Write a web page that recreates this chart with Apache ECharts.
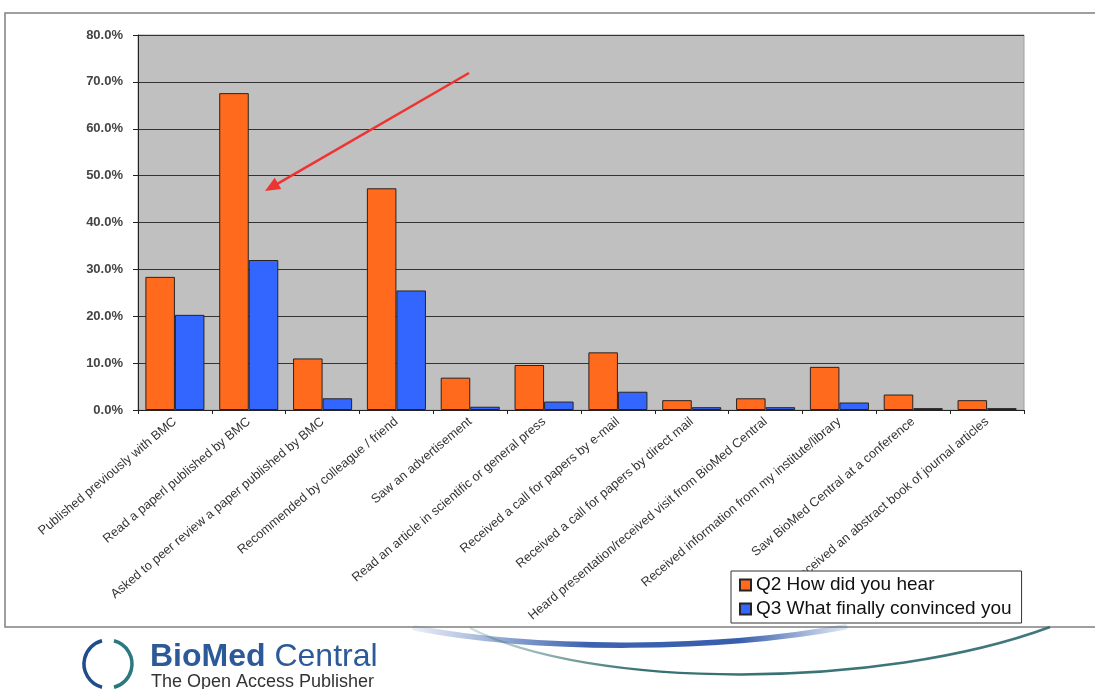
<!DOCTYPE html>
<html>
<head>
<meta charset="utf-8">
<title>How did you hear about BioMed Central</title>
<script src="https://cdn.jsdelivr.net/npm/echarts@6/dist/echarts.min.js"></script>
<style>
  html, body { margin: 0; padding: 0; background: #ffffff; }
  #chart { width: 1095px; height: 689px; }
</style>
</head>
<body>
<div id="chart"></div>
<script>
// Survey answers: how authors heard of BioMed Central, and what convinced them
const categories = [
  'Published previously with BMC',
  'Read a paperl published by BMC',
  'Asked to peer review a paper published by BMC',
  'Recommended by colleague / friend',
  'Saw an advertisement',
  'Read an article in scientific or general press',
  'Received a call for papers by e-mail',
  'Received a call for papers by direct mail',
  'Heard presentation/received visit from BioMed Central',
  'Received information from my institute/library',
  'Saw BioMed Central at a conference',
  'Received an abstract book of journal articles'
];
const seriesNames = ['Q2 How did you hear', 'Q3 What finally convinced you'];
const q2HowDidYouHear = [28.4, 67.6, 11.0, 47.3, 6.9, 9.6, 12.3, 2.1, 2.5, 9.2, 3.3, 2.1];
const q3WhatConvinced = [20.3, 32.0, 2.5, 25.5, 0.7, 1.8, 3.9, 0.6, 0.6, 1.6, 0.4, 0.4];
const yTicks = { min: 0, max: 80, step: 10 };

const FONT = "'Liberation Sans', Arial, sans-serif";
const NARROW = "'Liberation Sans Narrow', 'Arial Narrow', 'Liberation Sans', sans-serif";
const chart = echarts.init(document.getElementById('chart'), null, { renderer: 'canvas' });

// Red annotation arrow pointing at the "Read a paper" bar
const arrowFrom = [469, 73], arrowTo = [265, 191];
function arrowHead(from, to, len, half) {
  const dx = to[0] - from[0], dy = to[1] - from[1];
  const d = Math.hypot(dx, dy), ux = dx / d, uy = dy / d;
  const bx = to[0] - ux * len, by = to[1] - uy * len;
  return [to, [bx - uy * half, by + ux * half], [bx + uy * half, by - ux * half]];
}

const barStyle = (color) => ({ color: color, borderColor: '#2a2220', borderWidth: 1 });

chart.setOption({
  backgroundColor: '#ffffff',
  animation: false,
  textStyle: { fontFamily: FONT },
  grid: {
    left: 138, right: 71, top: 35, bottom: 279,
    show: true, backgroundColor: '#c0c0c0', borderColor: '#a0a0a0', borderWidth: 1
  },
  legend: {
    orient: 'vertical',
    left: 731, top: 571,
    width: 296,
    padding: [4, 10, 4, 8],
    itemGap: 4,
    itemWidth: 11, itemHeight: 11,
    icon: 'rect',
    backgroundColor: '#ffffff',
    borderColor: '#333333', borderWidth: 1,
    textStyle: { fontFamily: FONT, fontSize: 19, lineHeight: 20, color: '#111111' },
    data: seriesNames
  },
  xAxis: {
    type: 'category',
    data: categories,
    axisLine: { lineStyle: { color: '#222222', width: 1 } },
    axisTick: { show: true, length: 4, lineStyle: { color: '#222222' } },
    axisLabel: {
      interval: 0, rotate: 40, margin: 10,
      fontFamily: FONT, fontSize: 12.8, color: '#333333'
    }
  },
  yAxis: {
    type: 'value',
    min: yTicks.min, max: yTicks.max, interval: yTicks.step,
    axisLine: { show: true, lineStyle: { color: '#222222', width: 1 } },
    axisTick: { show: true, length: 5, lineStyle: { color: '#222222' } },
    splitLine: { lineStyle: { color: '#333333', width: 1 } },
    axisLabel: {
      margin: 15, fontFamily: FONT, fontSize: 13, fontWeight: 'bold', color: '#444444',
      formatter: (v) => v.toFixed(1) + '%'
    }
  },
  series: [
    {
      name: seriesNames[0], type: 'bar', data: q2HowDidYouHear,
      barGap: '0%', barCategoryGap: '20%',
      itemStyle: barStyle('#ff6a1c')
    },
    {
      name: seriesNames[1], type: 'bar', data: q3WhatConvinced,
      barGap: '0%', barCategoryGap: '20%',
      itemStyle: barStyle('#3366ff')
    }
  ],
  graphic: [
    // page frame
    { type: 'rect', z: 0, silent: true,
      shape: { x: 5, y: 13, width: 1100, height: 614 },
      style: { fill: 'none', stroke: '#808080', lineWidth: 1.5 } },
    // annotation arrow
    { type: 'line', z: 10, silent: true,
      shape: { x1: arrowFrom[0], y1: arrowFrom[1], x2: arrowTo[0] + 8, y2: arrowTo[1] - 4.6 },
      style: { stroke: '#ee3333', lineWidth: 2.5 } },
    { type: 'polygon', z: 10, silent: true,
      shape: { points: arrowHead(arrowFrom, arrowTo, 15, 6.5) },
      style: { fill: '#ee3333' } },
    // decorative swooshes under the frame
    { type: 'bezierCurve', z: 1, silent: true,
      shape: { x1: 415, y1: 628, cpx1: 540, cpy1: 652, cpx2: 720, cpy2: 650, x2: 845, y2: 627 },
      style: {
        fill: 'none', lineWidth: 5.5, lineCap: 'round',
        stroke: new echarts.graphic.LinearGradient(0, 0, 1, 0, [
          { offset: 0, color: 'rgba(60,100,175,0.1)' },
          { offset: 0.4, color: 'rgba(50,90,172,0.95)' },
          { offset: 0.75, color: 'rgba(45,85,168,0.95)' },
          { offset: 1, color: 'rgba(60,100,175,0.15)' }
        ])
      } },
    { type: 'bezierCurve', z: 1, silent: true,
      shape: { x1: 470, y1: 628, cpx1: 590, cpy1: 690, cpx2: 880, cpy2: 690, x2: 1050, y2: 627 },
      style: {
        fill: 'none', lineWidth: 2.5,
        stroke: new echarts.graphic.LinearGradient(0, 0, 1, 0, [
          { offset: 0, color: 'rgba(45,110,110,0.2)' },
          { offset: 0.3, color: 'rgba(45,105,105,0.95)' },
          { offset: 1, color: 'rgba(45,105,110,0.9)' }
        ])
      } },
    // BioMed Central mark
    { type: 'arc', z: 2, silent: true,
      shape: { cx: 108, cy: 664, r: 24, startAngle: Math.PI * 0.58, endAngle: Math.PI * 1.42 },
      style: { fill: 'none', stroke: '#1f4c8c', lineWidth: 3.5 } },
    { type: 'arc', z: 2, silent: true,
      shape: { cx: 108, cy: 664, r: 24, startAngle: -Math.PI * 0.42, endAngle: Math.PI * 0.42 },
      style: { fill: 'none', stroke: '#2b7880', lineWidth: 3.5 } },
    { type: 'text', z: 2, silent: true, left: 150, top: 641,
      style: {
        text: '{a|BioMed}{b| Central}',
        rich: {
          a: { fontFamily: NARROW, fontSize: 32, fontWeight: 'bold', fill: '#2c5a98' },
          b: { fontFamily: NARROW, fontSize: 32, fill: '#2c5a98' }
        }
      } },
    { type: 'text', z: 2, silent: true, left: 151, top: 673,
      style: { text: 'The Open Access Publisher', fontFamily: NARROW, fontSize: 18, fill: '#333333' } }
  ]
});
</script>
</body>
</html>
